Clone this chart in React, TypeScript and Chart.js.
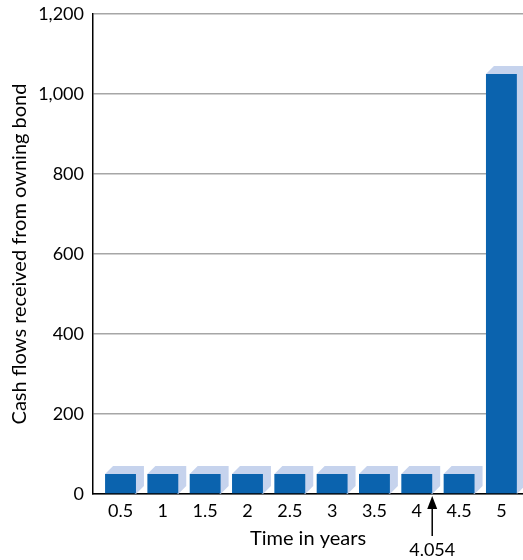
import React, { useEffect, useRef } from 'react';
import { Chart, registerables } from 'chart.js';

Chart.register(...registerables);

// ---- data ----
const times = [0.5, 1, 1.5, 2, 2.5, 3, 3.5, 4, 4.5, 5];
const cashFlows = [50, 50, 50, 50, 50, 50, 50, 50, 50, 1050];
const yTicks = [0, 200, 400, 600, 800, 1000, 1200];
const durationLabel = '4.054';
const durationBarTime = 4; // arrow marks the right edge of this bar

const xTitle = 'Time in years';
const yTitle = 'Cash flows received from owning bond';

// ---- styles ----
const FRONT = '#0b63ae';
const SIDE = '#c6d3ed';
const DEPTH = 8;
const FONT = 'Lato';

const depthPlugin = {
  id: 'depth3d',
  beforeDatasetsDraw(chart: any) {
    const meta = chart.getDatasetMeta(0);
    const ctx = chart.ctx;
    const base = chart.scales.y.getPixelForValue(0);
    ctx.save();
    ctx.fillStyle = SIDE;
    meta.data.forEach((bar: any) => {
      const { x, y, width } = bar.getProps(['x', 'y', 'width'], true);
      const l = x - width / 2;
      const r = x + width / 2;
      ctx.beginPath();
      ctx.moveTo(l, y);
      ctx.lineTo(l + DEPTH, y - DEPTH);
      ctx.lineTo(r + DEPTH, y - DEPTH);
      ctx.lineTo(r + DEPTH, base - DEPTH);
      ctx.lineTo(r, base);
      ctx.closePath();
      ctx.fill();
    });
    ctx.restore();
  },
};

const arrowPlugin = {
  id: 'durationArrow',
  afterDraw(chart: any) {
    const meta = chart.getDatasetMeta(0);
    const idx = times.indexOf(durationBarTime);
    const bar = meta.data[idx];
    if (!bar) return;
    const { x, width } = bar.getProps(['x', 'width'], true);
    const ax = x + width / 2;
    const top = chart.chartArea.bottom + 2;
    const ctx = chart.ctx;
    ctx.save();
    ctx.fillStyle = '#000';
    ctx.strokeStyle = '#000';
    ctx.lineWidth = 1.5;
    ctx.beginPath();
    ctx.moveTo(ax, top);
    ctx.lineTo(ax - 5, top + 13);
    ctx.lineTo(ax + 5, top + 13);
    ctx.closePath();
    ctx.fill();
    ctx.beginPath();
    ctx.moveTo(ax, top + 10);
    ctx.lineTo(ax, top + 40);
    ctx.stroke();
    ctx.font = `18px ${FONT}`;
    ctx.textAlign = 'center';
    ctx.textBaseline = 'middle';
    ctx.fillText(durationLabel, ax, top + 54);
    ctx.restore();
  },
};

export default function App() {
  const ref = useRef<HTMLCanvasElement | null>(null);

  useEffect(() => {
    if (!ref.current) return;
    const chart = new Chart(ref.current, {
      type: 'bar',
      data: {
        datasets: [
          {
            data: times.map((t, i) => ({ x: t, y: cashFlows[i] })),
            backgroundColor: FRONT,
            borderWidth: 0,
            barPercentage: 0.73,
            categoryPercentage: 1,
          },
        ],
      },
      options: {
        responsive: false,
        animation: false,
        devicePixelRatio: 1,
        layout: { padding: { top: 14, right: 0, left: 0, bottom: 0 } },
        plugins: {
          legend: { display: false },
          tooltip: { enabled: false },
        },
        scales: {
          x: {
            type: 'linear',
            min: 0.175,
            max: 5.255,
            offset: false,
            grid: { display: false, offset: false, drawTicks: false },
            border: { display: true, color: '#000', width: 1.5 },
            afterBuildTicks: (axis: any) => {
              axis.ticks = times.map((v) => ({ value: v }));
            },
            afterFit: (s: any) => {
              s.height = 66;
              s.paddingLeft = 0;
              s.paddingRight = 0;
            },
            ticks: {
              color: '#000',
              padding: 6,
              maxRotation: 0,
              autoSkip: false,
              font: { family: FONT, size: 18 },
              callback: (v: any) => String(v),
            },
            title: {
              display: true,
              text: xTitle,
              color: '#000',
              font: { family: FONT, size: 20 },
              padding: { top: 0, bottom: 9 },
            },
          },
          y: {
            type: 'linear',
            min: 0,
            max: 1200,
            afterBuildTicks: (axis: any) => {
              axis.ticks = yTicks.map((v) => ({ value: v }));
            },
            afterFit: (s: any) => {
              s.width = 93;
              s.paddingTop = 0;
              s.paddingBottom = 0;
            },
            grid: { color: '#a6a6a6', lineWidth: 1.5, drawTicks: false },
            border: { display: true, color: '#000', width: 1.5 },
            ticks: {
              color: '#000',
              padding: 9,
              font: { family: FONT, size: 18 },
              callback: (v: any) => Number(v).toLocaleString('en-US'),
            },
            title: {
              display: true,
              text: yTitle,
              color: '#000',
              font: { family: FONT, size: 20 },
              padding: { top: 8, bottom: 0 },
            },
          },
        },
      },
      plugins: [depthPlugin, arrowPlugin],
    } as any);
    return () => chart.destroy();
  }, []);

  return (
    <div style={{ position: 'fixed', left: 0, top: 0, width: 523, height: 560, background: '#fff' }}>
      <canvas ref={ref} width={523} height={560} style={{ display: 'block' }} />
    </div>
  );
}
